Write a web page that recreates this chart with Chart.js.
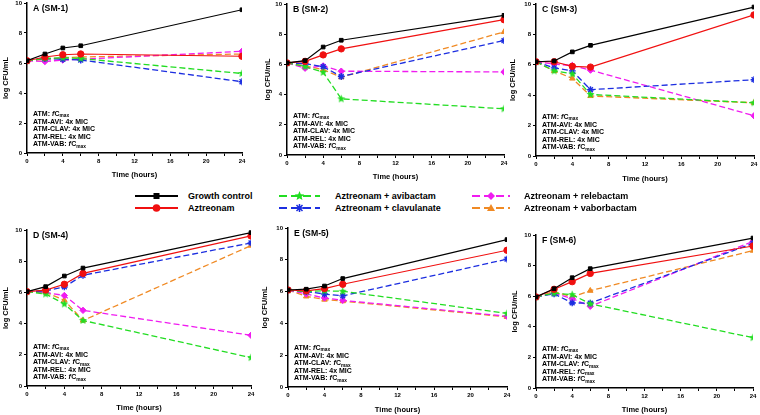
<!DOCTYPE html>
<html>
<head>
<meta charset="utf-8">
<script src="https://cdn.jsdelivr.net/npm/chart.js@4.4.1/dist/chart.umd.min.js"></script>
<style>
  body { margin: 0; background: #fff; font-family: "Liberation Sans", Arial, sans-serif; }
  #wrap { position: relative; width: 760px; height: 415px; overflow: hidden; }
  .panel { position: absolute; }
  .leg { position: absolute; font-weight: bold; font-size: 9px; line-height: 10px; white-space: nowrap; }
  .leg svg { position: absolute; }
</style>
</head>
<body>
<div id="wrap"></div>
<script>
// sampling times (hours)
const times = [0, 2, 4, 6, 24];
const seriesNames = ['Growth control', 'Aztreonam', 'Aztreonam + avibactam',
  'Aztreonam + clavulanate', 'Aztreonam + relebactam', 'Aztreonam + vaborbactam'];
const xTicks = [0, 4, 8, 12, 16, 20, 24];
const yTicks = [0, 2, 4, 6, 8, 10];

// log CFU/mL, rows in the order of seriesNames
const valuesA = [
  [6.15, 6.6, 7.0, 7.15, 9.55],
  [6.15, 6.4, 6.55, 6.6, 6.45],
  [6.15, 6.3, 6.35, 6.3, 5.3],
  [6.15, 6.3, 6.25, 6.2, 4.75],
  [6.15, 6.1, 6.2, 6.25, 6.78],
  [6.15, 6.25, 6.35, 6.4, 6.6]
];
const valuesB = [
  [6.1, 6.25, 7.15, 7.6, 9.25],
  [6.1, 6.2, 6.63, 7.03, 8.96],
  [6.1, 5.85, 5.48, 3.72, 3.06],
  [6.1, 6.05, 5.85, 5.2, 7.58],
  [6.1, 5.75, 5.9, 5.55, 5.5],
  [6.1, 5.9, 5.65, 5.15, 8.15]
];
const valuesC = [
  [6.2, 6.25, 6.85, 7.28, 9.8],
  [6.2, 6.2, 5.9, 5.85, 9.28],
  [6.2, 5.6, 5.4, 4.05, 3.5],
  [6.2, 5.8, 5.6, 4.36, 5.02],
  [6.2, 6.05, 5.95, 5.65, 2.65],
  [6.2, 5.6, 5.1, 3.95, 3.5]
];
const valuesD = [
  [6.05, 6.37, 7.05, 7.56, 9.83],
  [6.05, 6.15, 6.52, 7.22, 9.62],
  [6.05, 5.9, 5.26, 4.2, 1.82],
  [6.05, 6.1, 6.35, 7.1, 9.17],
  [6.05, 6.0, 5.8, 4.85, 3.25],
  [6.05, 6.0, 5.5, 4.2, 9.0]
];
const valuesE = [
  [6.1, 6.15, 6.35, 6.82, 9.27],
  [6.1, 6.05, 6.19, 6.46, 8.6],
  [6.1, 6.0, 6.05, 6.02, 4.63],
  [6.1, 6.0, 5.85, 5.73, 8.04],
  [6.1, 5.85, 5.6, 5.45, 4.45],
  [6.1, 5.7, 5.5, 5.4, 4.41]
];
const valuesF = [
  [5.95, 6.49, 7.21, 7.8, 9.8],
  [5.95, 6.45, 6.95, 7.49, 9.28],
  [5.95, 6.2, 6.1, 5.5, 3.29],
  [5.95, 6.15, 5.56, 5.55, 9.45],
  [5.95, 6.2, 5.85, 5.34, 9.58],
  [5.95, 6.3, 5.95, 6.36, 8.98]
];

// panel labels and dosing notes (AVI, CLAV, REL, VAB)
const panelTitles = ['A (SM-1)', 'B (SM-2)', 'C (SM-3)', 'D (SM-4)', 'E (SM-5)', 'F (SM-6)'];
const doseA = ['4x MIC', '4x MIC', '4x MIC', 'fCmax'];
const doseB = ['4x MIC', '4x MIC', '4x MIC', 'fCmax'];
const doseC = ['4x MIC', '4x MIC', '4x MIC', 'fCmax'];
const doseD = ['4x MIC', 'fCmax', '4x MIC', 'fCmax'];
const doseE = ['4x MIC', 'fCmax', '4x MIC', 'fCmax'];
const doseF = ['4x MIC', 'fCmax', 'fCmax', 'fCmax'];

const colors = ['#000000', '#f01010', '#22dd22', '#1c2ee0', '#f01cf0', '#f08a24'];
const dashed = [false, false, true, true, true, true];

// filled five point star for avibactam
function starImg(color, r) {
  const c = document.createElement('canvas');
  const s = Math.ceil(r * 2 + 2);
  c.width = s; c.height = s;
  const g = c.getContext('2d');
  g.fillStyle = color;
  g.beginPath();
  for (let i = 0; i < 10; i++) {
    const rr = i % 2 ? r * 0.45 : r;
    const a = -Math.PI / 2 + i * Math.PI / 5;
    g.lineTo(s / 2 + rr * Math.cos(a), s / 2 + rr * Math.sin(a));
  }
  g.closePath();
  g.fill();
  return c;
}
const pointStyles = ['rect', 'circle', starImg('#22dd22', 4.2), 'star', 'rectRot', 'triangle'];
const pointRadii = [2.6, 3.2, 4, 3.4, 3.2, 3.2];

// plot rectangles [left, top, right, bottom] and canvas boxes [left, top, right, bottom]
const geoms = [
  { plot: [27, 3, 242, 153], box: [0, -3, 250, 180] },
  { plot: [287, 4, 504, 155], box: [262, -2, 512, 182] },
  { plot: [536, 4, 754, 156], box: [507, -2, 760, 184] },
  { plot: [27, 230, 251, 386], box: [0, 224, 259, 413] },
  { plot: [288, 228, 507, 387], box: [259, 222, 515, 415] },
  { plot: [536, 235, 753, 388], box: [509, 229, 760, 415] }
];

const notesPlugin = {
  id: 'notes',
  afterDraw(chart, args, opts) {
    const ctx = chart.ctx, a = chart.chartArea;
    ctx.save();
    ctx.fillStyle = '#000';
    ctx.textBaseline = 'middle';
    ctx.font = 'bold 8.7px "Liberation Sans"';
    ctx.fillText(opts.title, a.left + 6, a.top + 6);
    const names = ['ATM', 'ATM-AVI', 'ATM-CLAV', 'ATM-REL', 'ATM-VAB'];
    const doses = ['fCmax'].concat(opts.doses);
    const step = 7.6;
    for (let i = 0; i < 5; i++) {
      const y = a.bottom - 8.5 - (4 - i) * step;
      let x = a.left + 6;
      ctx.font = 'bold 7px "Liberation Sans"';
      const head = names[i] + ': ';
      ctx.fillText(head, x, y);
      x += ctx.measureText(head).width;
      if (doses[i] === 'fCmax') {
        ctx.font = 'italic bold 7px "Liberation Sans"';
        ctx.fillText('f', x, y);
        x += ctx.measureText('f').width + 0.3;
        ctx.font = 'bold 7px "Liberation Sans"';
        ctx.fillText('C', x, y);
        x += ctx.measureText('C').width;
        ctx.font = 'bold 4.8px "Liberation Sans"';
        ctx.fillText('max', x, y + 2);
      } else {
        ctx.fillText(doses[i], x, y);
      }
    }
    ctx.restore();
  }
};

const allValues = [valuesA, valuesB, valuesC, valuesD, valuesE, valuesF];
const allDoses = [doseA, doseB, doseC, doseD, doseE, doseF];
const wrap = document.getElementById('wrap');

allValues.forEach((vals, p) => {
  const g = geoms[p];
  const [bl, bt, br, bb] = g.box;
  const [pl, pt, pr, pb] = g.plot;
  const div = document.createElement('div');
  div.className = 'panel';
  div.style.left = bl + 'px';
  div.style.top = bt + 'px';
  div.style.width = (br - bl) + 'px';
  div.style.height = (bb - bt) + 'px';
  const cv = document.createElement('canvas');
  div.appendChild(cv);
  wrap.appendChild(div);

  const datasets = vals.map((v, i) => ({
    label: seriesNames[i],
    data: v.map((y, k) => ({ x: times[k], y: y })),
    borderColor: colors[i],
    backgroundColor: colors[i],
    borderWidth: dashed[i] ? 1.3 : 1.2,
    borderDash: dashed[i] ? [6, 3] : [],
    pointStyle: pointStyles[i],
    pointRadius: pointRadii[i],
    pointBorderWidth: i === 3 ? 1.4 : 1,
    tension: 0,
    order: dashed[i] ? 2 : 1
  }));

  new Chart(cv, {
    type: 'line',
    data: { datasets },
    plugins: [notesPlugin],
    options: {
      responsive: true,
      maintainAspectRatio: false,
      animation: false,
      layout: { padding: { left: 0, top: pt - bt, right: br - pr, bottom: 0 } },
      plugins: {
        legend: { display: false },
        tooltip: { enabled: false },
        notes: { title: panelTitles[p], doses: allDoses[p] }
      },
      scales: {
        x: {
          type: 'linear', min: 0, max: 24,
          afterBuildTicks(s) { s.ticks = [0, 2, 4, 6, 8, 10, 12, 14, 16, 18, 20, 22, 24].map(v => ({ value: v })); },
          afterFit(s) { s.height = bb - pb; },
          ticks: {
            autoSkip: false, maxRotation: 0, padding: 2, color: '#000',
            font: { size: 6, weight: 'bold', family: 'Liberation Sans' },
            callback: v => xTicks.includes(v) ? String(v) : ''
          },
          grid: { drawOnChartArea: false, drawTicks: true, tickLength: 3, color: '#000', lineWidth: 1 },
          border: { display: true, color: '#000', width: 1.5 },
          title: { display: true, text: 'Time (hours)', color: '#000', padding: { top: 2, bottom: 1 },
            font: { size: 7.5, weight: 'bold', family: 'Liberation Sans' } }
        },
        y: {
          min: 0, max: 10,
          afterBuildTicks(s) { s.ticks = yTicks.map(v => ({ value: v })); },
          afterFit(s) { s.width = pl - bl; },
          ticks: {
            padding: 2, color: '#000',
            font: { size: 6, weight: 'bold', family: 'Liberation Sans' }
          },
          grid: { drawOnChartArea: false, drawTicks: true, tickLength: 3, color: '#000', lineWidth: 1 },
          border: { display: true, color: '#000', width: 1.5 },
          title: { display: true, text: 'log CFU/mL', color: '#000', padding: { top: 1, bottom: 1 },
            font: { size: 7.5, weight: 'bold', family: 'Liberation Sans' } }
        }
      }
    }
  });
});

// shared legend
const legendSpots = [
  [135, 191, 43, 188], [135, 203, 43, 188],
  [279, 191, 41, 335], [279, 203, 41, 335],
  [472, 191, 38, 524], [472, 203, 38, 524]
];
function markerSvg(i, cx, cy) {
  const c = colors[i];
  if (i === 0) return `<rect x="${cx - 3}" y="${cy - 3}" width="6" height="6" fill="${c}"/>`;
  if (i === 1) return `<circle cx="${cx}" cy="${cy}" r="3.8" fill="${c}"/>`;
  if (i === 2) {
    let pts = [];
    for (let k = 0; k < 10; k++) {
      const rr = k % 2 ? 2.2 : 5;
      const a = -Math.PI / 2 + k * Math.PI / 5;
      pts.push((cx + rr * Math.cos(a)).toFixed(2) + ',' + (cy + rr * Math.sin(a)).toFixed(2));
    }
    return `<polygon points="${pts.join(' ')}" fill="${c}"/>`;
  }
  if (i === 3) return `<path d="M${cx - 4} ${cy}H${cx + 4}M${cx} ${cy - 4}V${cy + 4}M${cx - 3} ${cy - 3}L${cx + 3} ${cy + 3}M${cx - 3} ${cy + 3}L${cx + 3} ${cy - 3}" stroke="${c}" stroke-width="1.5"/>`;
  if (i === 4) return `<polygon points="${cx},${cy - 4} ${cx + 4},${cy} ${cx},${cy + 4} ${cx - 4},${cy}" fill="${c}"/>`;
  return `<polygon points="${cx},${cy - 4} ${cx + 4},${cy + 3} ${cx - 4},${cy + 3}" fill="${c}"/>`;
}
seriesNames.forEach((name, i) => {
  const [lx, ly, lw, tx] = legendSpots[i];
  const d = document.createElement('div');
  d.className = 'leg';
  d.style.left = lx + 'px';
  d.style.top = ly + 'px';
  const dash = dashed[i] ? 'stroke-dasharray="8 4"' : '';
  d.innerHTML = `<svg width="${lw}" height="10" style="left:0;top:0">
    <line x1="0" y1="5" x2="${lw}" y2="5" stroke="${colors[i]}" stroke-width="2" ${dash}/>
    ${markerSvg(i, lw / 2, 5)}</svg>
    <span style="position:absolute;left:${tx - lx}px;top:0">${name}</span>`;
  wrap.appendChild(d);
});
</script>
</body>
</html>
